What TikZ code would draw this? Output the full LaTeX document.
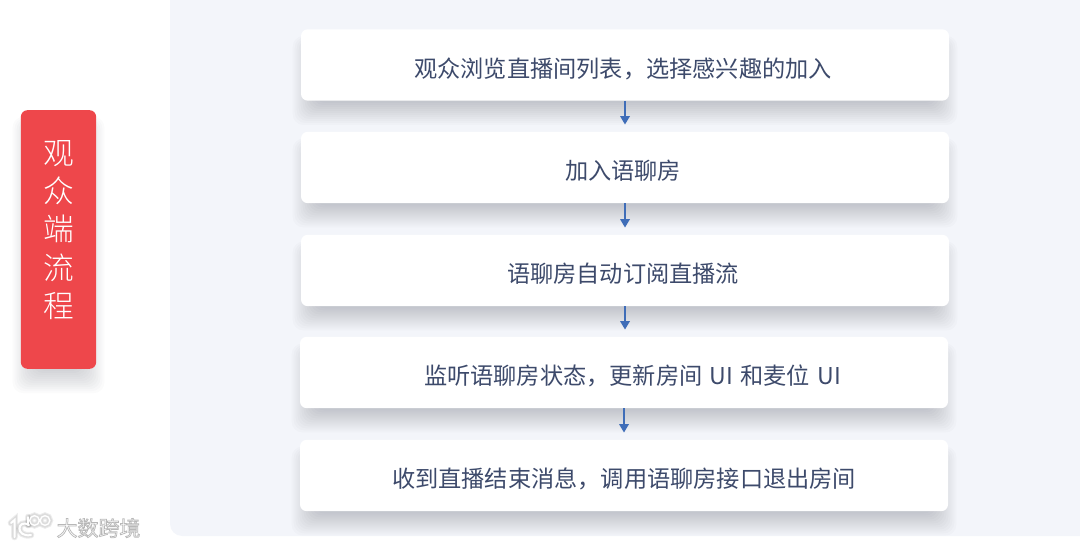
\documentclass[tikz,border=0pt]{standalone}
\usepackage{fontspec}
\setmainfont{Noto Sans CJK SC}
\newfontfamily\cjklight{Noto Sans CJK SC Light}
\usetikzlibrary{arrows.meta,positioning}
\definecolor{panelbg}{HTML}{F3F5FA}
\definecolor{labelred}{HTML}{EE474B}
\definecolor{cardtext}{HTML}{3D4A6B}
\definecolor{arrowblue}{HTML}{3F6DB8}
\definecolor{shadowc}{HTML}{2A3040}
\pgfdeclarelayer{bg}
\pgfsetlayers{bg,main}
\tikzset{
  card/.style={fill=white,rounded corners=5pt,minimum width=486pt,minimum height=53.5pt,inner sep=0pt,
    text=cardtext,font=\fontsize{17.4pt}{20pt}\selectfont,text height=18.6pt,text depth=0pt},
  flow/.style={draw=arrowblue,line width=2pt,shorten >=5.2pt,-{Triangle[length=6.4pt,width=7pt]}},
  labelbox/.style={fill=labelred,rounded corners=5pt,minimum width=56.5pt,minimum height=194pt,inner sep=0pt},
  labeltext/.style={text=white,align=center,inner sep=0pt,font=\cjklight\fontsize{23pt}{28.7pt}\selectfont},
  wmtext/.style={inner sep=0pt,font=\fontsize{15.7pt}{18pt}\selectfont},
  wmline/.style={draw=white,line width=1.5pt,line cap=round},
  wmhalo/.style={draw=black,opacity=.07,line cap=round}
}
% soft shadow under a node, wider and lower layer by layer
\newcommand{\softshadow}[1]{%
  \foreach \i in {0,...,11}{%
    \fill[shadowc,opacity=.02,rounded corners=8pt]
      ([xshift={(14-2*\i)*0.75pt},yshift={(\i-18)*0.75pt}]#1.north west) rectangle
      ([xshift={(2*\i-14)*0.75pt},yshift={-(2*\i+2)*0.75pt}]#1.south east);
  }%
}
\begin{document}
\begin{tikzpicture}[x=0.75pt,y=-0.75pt]
\useasboundingbox (0,0) rectangle (1080,548);
\node[labelbox] (lab) at (58.5,239.5) {};
\node[labeltext] (labt) at (58.5,230) {观\\众\\端\\流\\程};
\node[card] (c1) at (625,65) {观众浏览直播间列表，选择感兴趣的加入\hspace*{3pt}};
\node[card] (c2) at (625,167.5) {加入语聊房\hspace*{3pt}};
\node[card] (c3) at (625,270.5) {语聊房自动订阅直播流\hspace*{3pt}};
\node[card] (c4) at (624,372.5) {\hspace*{12.75pt}监听语聊房状态，更新房间\hspace{1.5pt} UI\hspace{1.5pt} 和麦位\hspace{1.5pt} UI};
\node[card] (c5) at (624,475.5) {收到直播结束消息，调用语聊房接口退出房间};
\draw[flow] (c1.south) -- (c2.north);
\draw[flow] (c2.south) -- (c3.north);
\draw[flow] (c3.south) -- (c4.north -| c3.south);
\draw[flow] (c4.south) -- (c5.north);
\begin{pgfonlayer}{bg}
  \fill[panelbg,rounded corners=9pt] (170,-20) rectangle (1100,536);
  \softshadow{lab}
  \begin{scope}
    \clip[rounded corners=9pt] (170,-20) rectangle (1100,536);
    \softshadow{c1}
    \softshadow{c2}
    \softshadow{c3}
    \softshadow{c4}
    \softshadow{c5}
  \end{scope}
\end{pgfonlayer}
% watermark: white text with a grey outline
\node[wmtext] (wm) at (98.5,528) {\special{pdf:code 2 Tr 0.55 w 0.72 G 1 g}大数跨境\special{pdf:code 0 Tr}};
\foreach \w/\o in {5/.05,3.5/.08}{
  \draw[wmhalo,line width=\w pt] (11,523) -- (14.5,520) -- (14.5,537);
  \draw[wmhalo,line width=\w pt] (29,525) .. controls (17,518) and (15,538) .. (31,535);
  \draw[wmhalo,line width=\w pt] (34.5,520.5) circle (4.8) (45,520.5) circle (4.8);
  \draw[wmhalo,line width=\w pt] (28,517) -- (28,525);
}
\draw[wmline] (11,523) -- (14.5,520) -- (14.5,537);
\draw[wmline] (29,525) .. controls (17,518) and (15,538) .. (31,535);
\draw[wmline,line width=1pt] (34.5,520.5) circle (4.8) (45,520.5) circle (4.8);
\draw[wmline,line width=1pt] (28,517) -- (28,525);
\end{tikzpicture}
\end{document}
